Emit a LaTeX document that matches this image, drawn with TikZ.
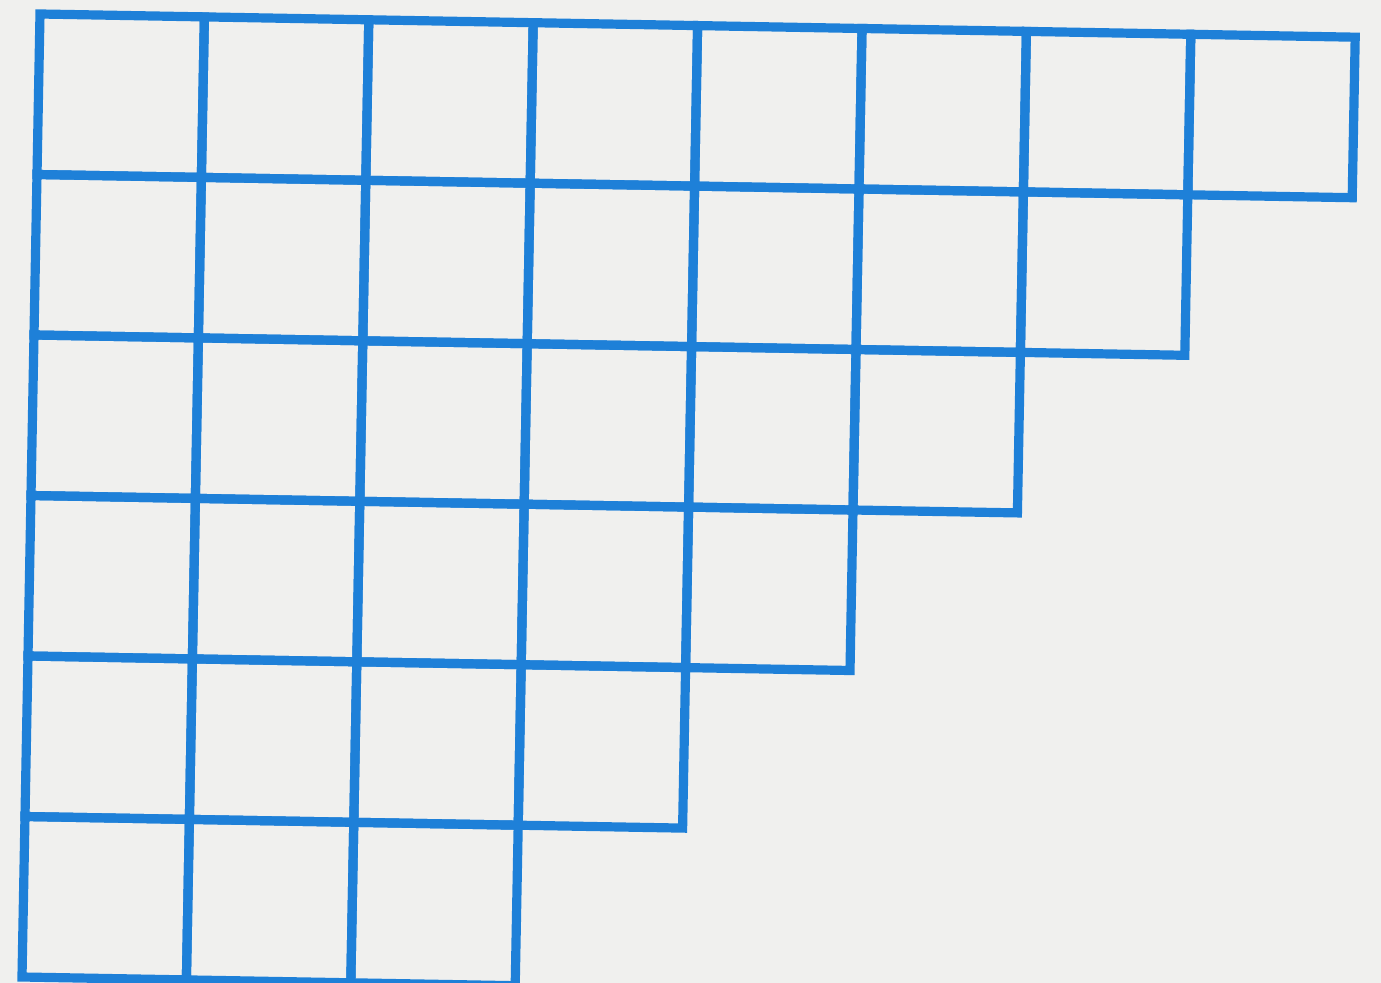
\documentclass[tikz,border=0pt]{standalone}
\usetikzlibrary{positioning}
\definecolor{gridblue}{RGB}{30,128,216}
\definecolor{paper}{RGB}{240,240,238}

\begin{document}
\begin{tikzpicture}[x=0.5pt, y=0.5pt, cell/.style={draw=gridblue, line width=4.6pt, line join=miter}]
				\fill[paper] (0,0) rectangle (1381,-983);
				\useasboundingbox (0,0) rectangle (1381,-983);
				\begin{scope}[shift={(40,-14)}, x={(82.2pt,-1.45pt)}, y={(-1.5pt,-80.25pt)}]
				\foreach \r in {0,...,5}{
					\pgfmathtruncatemacro{\last}{7-\r}
					\foreach \c in {0,...,\last}
						\draw[cell] (\c,\r) -- ++(1,0) -- ++(0,1) -- ++(-1,0) -- cycle;
				}
				\end{scope}
			\end{tikzpicture}
\end{document}
